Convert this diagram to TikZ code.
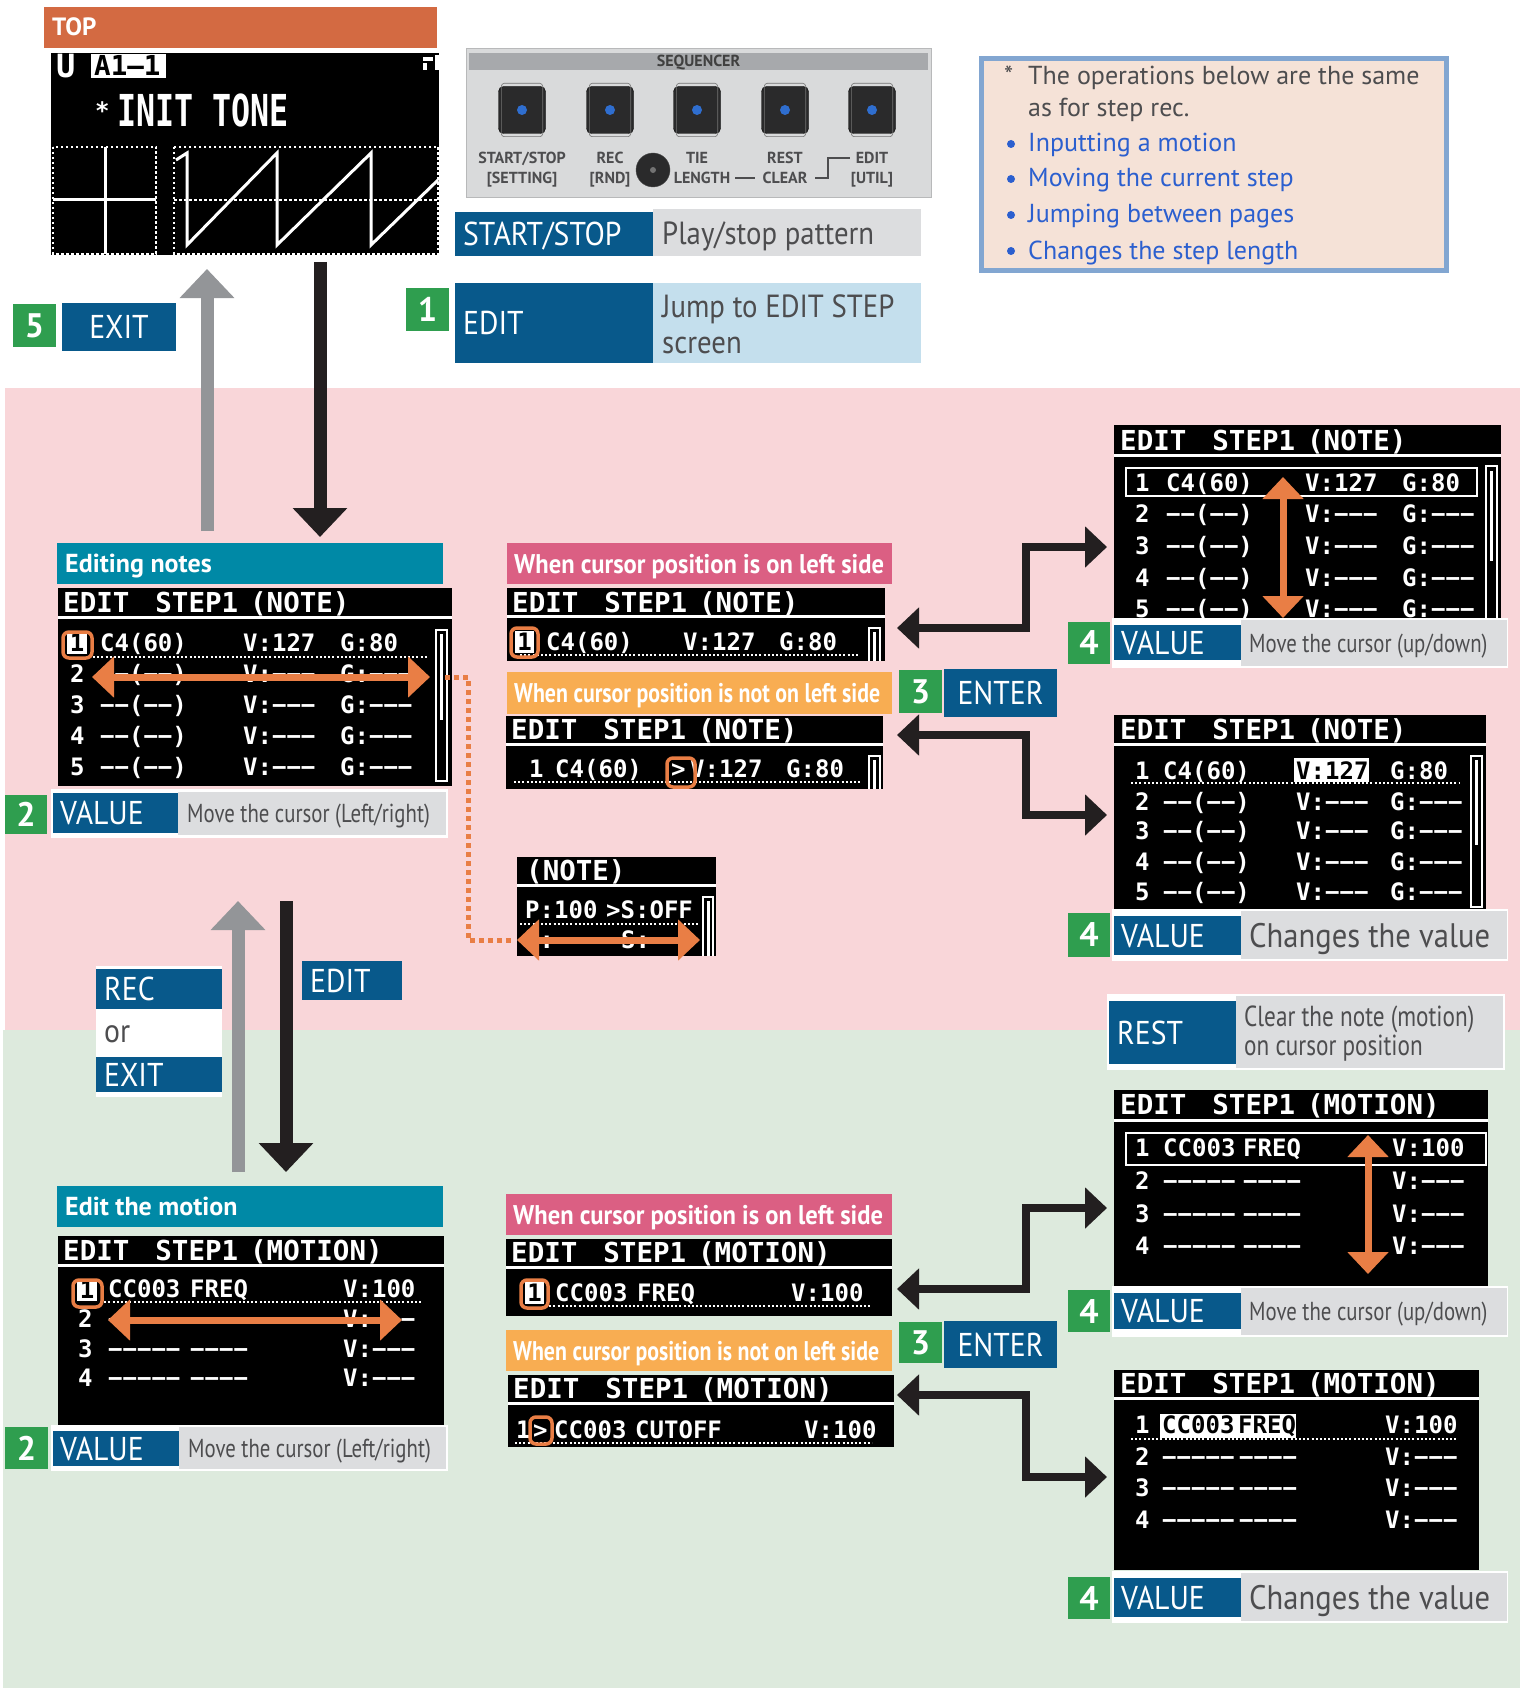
\documentclass[tikz,border=0pt]{standalone}
\usepackage{fontspec}
\setmainfont{PT Sans}
\newfontfamily\keyfam[FakeStretch=0.9]{PT Sans}
\newfontfamily\cndfam[FakeStretch=0.8]{PT Sans}
\newfontfamily\lblfam[FakeStretch=0.91]{PT Sans}
\newfontfamily\lblnfam[FakeStretch=0.81]{PT Sans}
\newfontfamily\lcdfam[Ligatures=TeXOff]{DejaVu Sans Mono}
\newfontfamily\lcdtallfam[FakeStretch=0.72,Ligatures=TeXOff]{DejaVu Sans Mono}
\usetikzlibrary{arrows.meta}

\definecolor{cTop}{HTML}{D36A42}
\definecolor{cTeal}{HTML}{0089A6}
\definecolor{cKey}{HTML}{08598B}
\definecolor{cGrn}{HTML}{2F9E4F}
\definecolor{cDesc}{HTML}{DCDDDF}
\definecolor{cLBlue}{HTML}{C4DFED}
\definecolor{cPinkBg}{HTML}{F9D6D9}
\definecolor{cGrnBg}{HTML}{DDEADD}
\definecolor{cPinkL}{HTML}{DB5F83}
\definecolor{cOrL}{HTML}{F8AD52}
\definecolor{cOr}{HTML}{E97E45}
\definecolor{cArrG}{HTML}{939598}
\definecolor{cArrK}{HTML}{231F20}
\definecolor{cInfoF}{HTML}{F5E2D7}
\definecolor{cInfoB}{HTML}{82A6D1}
\definecolor{cInfoT}{HTML}{2B5FCF}
\definecolor{cTxtG}{HTML}{4D4D4F}
\definecolor{cPanel}{HTML}{D9DADB}
\definecolor{cPanelH}{HTML}{A7A9AC}
\definecolor{cBtn}{HTML}{2A2A2B}
\definecolor{cDot}{HTML}{2F6ECF}

\newcommand{\keyF}{\keyfam\fontsize{33}{36}\selectfont}
\newcommand{\dscF}{\cndfam\fontsize{26}{28}\selectfont}
\newcommand{\lblF}{\lblfam\bfseries\fontsize{27}{28}\selectfont}
\newcommand{\lblnF}{\lblnfam\bfseries\fontsize{27}{28}\selectfont}
\newcommand{\lcdR}{\lcdfam\bfseries\fontsize{24}{24}\selectfont}
\newcommand{\lcdH}{\lcdfam\bfseries\fontsize{27.5}{28}\selectfont}
\newcommand{\numF}{\bfseries\fontsize{34}{34}\selectfont}
\newcommand{\lcdttl}[1]{EDIT\hspace*{26pt}STEP1\hspace*{12pt}#1}

\newcommand{\rbx}[6]{\node[rbxs, fill=#2, minimum width={#5pt-#3pt}, minimum height={#6pt-#4pt}] (#1) at (#3,#4) {};}
\newcommand{\rbt}[7]{\node[#2, minimum width={#5pt-#3pt}, minimum height={#6pt-#4pt}] (#1) at (#3,#4) {#7};}
\newcommand{\nrowd}[7]{\node[lr] (#1a) at (#4,#2) {#3};\node[lr] (#1b) at (#5,#2) {−−(−−)};\node[lr] (#1c) at (#6,#2) {V:−−−};\node[lr] (#1d) at (#7,#2) {G:−−−};}
\newcommand{\mrowd}[7]{\node[lr] (#1a) at (#4,#2) {#3};\node[lr] (#1b) at (#5,#2) {−−−−−};\node[lr] (#1c) at (#6,#2) {−−−−};\node[lr] (#1d) at (#7,#2) {V:−−−};}

\begin{document}
\begin{tikzpicture}[x=1pt,y=-1pt,
  rbxs/.style={inner sep=0pt, outer sep=0pt, anchor=north west, draw=none},
  kt/.style={font=\keyF, text=white, inner sep=0pt, text height=23pt, text depth=0pt},
  dt/.style={font=\dscF, text=cTxtG, inner sep=0pt, text height=18pt, text depth=0pt},
  lt/.style={font=\lblF, text=white, inner sep=0pt, text height=19pt, text depth=0pt},
  ltn/.style={font=\lblnF, text=white, inner sep=0pt, text height=19pt, text depth=0pt},
  ht/.style={font=\bfseries\fontsize{26}{28}\selectfont, text=white, inner sep=0pt, text height=18pt, text depth=0pt},
  nb/.style={rbxs, fill=cGrn, text=white, font=\numF},
  kb/.style={rbxs, fill=cKey, text=white, font=\keyF},
  lr/.style={font=\lcdR, text=white, anchor=west, inner sep=0pt, text height=17.5pt, text depth=0pt},
  lh/.style={font=\lcdH, text=white, anchor=west, inner sep=0pt, text height=20pt, text depth=0pt},
  cur/.style={fill=white, text=black, font=\lcdR, inner xsep=2.5pt, inner ysep=2pt, text height=17.5pt, text depth=0pt},
  ldot/.style={draw=white, line width=2pt, dash pattern=on 2pt off 2.2pt},
  tdot/.style={draw=white, line width=2.5pt, dash pattern=on 2.5pt off 2.5pt},
  orhl/.style={draw=cOr, line width=3.5pt, rounded corners=6pt},
  orarr/.style={draw=cOr, line width=7pt, {Triangle[length=22pt,width=40pt]}-{Triangle[length=22pt,width=40pt]}},
  conn/.style={draw=cArrK, line width=8pt, line join=miter, {Triangle[length=22pt,width=40pt]}-{Triangle[length=22pt,width=40pt]}},
  garr/.style={draw=cArrG, line width=13pt, -{Triangle[length=29pt,width=53pt]}},
  karr/.style={draw=cArrK, line width=13pt, -{Triangle[length=29pt,width=53pt]}},
  it/.style={font=\fontsize{26}{28}\selectfont, inner sep=0pt, anchor=base west},
  sq/.style={font=\bfseries\fontsize{16}{18}\selectfont, text=cTxtG, inner sep=0pt, anchor=base},
  sbar/.style={draw=white, line width=2.5pt},
]
\useasboundingbox (0,0) rectangle (1520,1688);
\fill[white] (0,0) rectangle (1520,1688);

% backgrounds
\fill[cPinkBg] (5,388) rectangle (1520,1030);
\fill[cGrnBg] (3,1030) rectangle (1520,1688);

% ---------- TOP ----------
\rbx{topbar}{cTop}{44}{7}{437}{48}
\node[ht, anchor=west, font=\bfseries\fontsize{25}{26}\selectfont, text height=17pt] (toptx) at ([xshift=8pt]topbar.west) {TOP};

\rbx{tscr}{black}{51}{53}{439}{255}
\node[font=\lcdfam\bfseries\fontsize{32}{32}\selectfont, text=white, anchor=west, inner sep=0pt, text height=23pt, text depth=0pt] (tU) at (56,66) {U};
\rbx{tA}{white}{91}{54}{166}{78}
\node[lh, text=black] (tAt) at (94,66) {A1–1};
\fill[white] (423,57) rectangle (433,61);
\fill[white] (423,63) rectangle (427,70);
\fill[white] (435,55) rectangle (439,70);
\node[lr] (tstar) at (95,111) {*};
\node[font=\lcdtallfam\bfseries\fontsize{44}{44}\selectfont, text=white, anchor=west, inner sep=0pt, text height=32pt, text depth=0pt] (tinit) at (117,111) {INIT TONE};
\draw[tdot] (53,147) rectangle (156,254);
\draw[tdot] (174,147) rectangle (438,254);
\draw[tdot] (174,200) -- (438,200);
\draw[white, line width=3pt] (105,147) -- (105,254);
\draw[white, line width=3pt] (53,200) -- (156,200);
\draw[white, line width=3pt, line join=miter] (176,160) -- (187,153) -- (187,245) -- (277,153) -- (277,245) -- (371,153) -- (371,245) -- (438,180);

% top arrows
\coordinate (ga1) at (207,531); \coordinate (ga2) at (207,269);
\draw[garr] (ga1) -- (ga2);
\coordinate (ka1) at (320,262); \coordinate (ka2) at (320,537);
\draw[karr] (ka1) -- (ka2);

% 5 EXIT, 1
\rbt{n5}{nb}{13}{304}{56}{347}{5}
\rbt{kExit}{kb}{62}{303}{176}{351}{EXIT}
\rbt{n1}{nb}{406}{288}{449}{331}{1}

% ---------- SEQUENCER panel ----------
\node[rbxs, fill=cPanel, draw=cPanel!85!black, line width=0.8pt, minimum width=465pt, minimum height=149pt] (seq) at (466,48) {};
\rbx{seqh}{cPanelH}{469}{53}{928}{70}
\node[sq, anchor=center, text=black!75, text height=11pt, text depth=0pt] (seqt) at (seqh.center) {SEQUENCER};
\foreach \i/\bx in {1/522,2/610,3/697,4/785,5/872}{
  \node[draw=black, fill=cBtn, rounded corners=5pt, minimum size=47pt, inner sep=0pt] (btn\i) at (\bx,110) {};
  \draw[black!55, line width=0.6pt, rounded corners=3pt] ([shift={(3,-3)}]btn\i.north west) rectangle ([shift={(-3,3)}]btn\i.south east);
  \fill[cDot] (btn\i.center) circle (5pt);
}
\node[circle, fill=cBtn, draw=black!70, minimum size=34pt, inner sep=0pt] (knob) at (653,170) {};
\fill[black!55] (knob.center) circle (3pt);
\node[sq] (sqa) at (522,164) {START/STOP};
\node[sq] (sqb) at (522,184) {[SETTING]};
\node[sq] (sqc) at (610,164) {REC};
\node[sq] (sqd) at (610,184) {[RND]};
\node[sq] (sqe) at (697,164) {TIE};
\node[sq] (sqf) at (702,184) {LENGTH};
\node[sq] (sqg) at (785,164) {REST};
\node[sq] (sqh) at (785,184) {CLEAR};
\node[sq] (sqi) at (872,164) {EDIT};
\node[sq] (sqj) at (872,184) {[UTIL]};
\draw[cTxtG, line width=1.2pt] (sqf.east |- 0,178) ++(5,0) -- (755,178);
\draw[cTxtG, line width=1.2pt] (815,178) -- (828,178) -- (828,158) -- (850,158);

% START/STOP row
\rbx{ssb}{cKey}{455}{212}{653}{256}
\rbx{ssg}{cDesc}{653}{209}{921}{256}
\node[kt, anchor=west] (sst) at ([xshift=8pt]ssb.west) {START/STOP};
\node[font=\keyfam\fontsize{32}{34}\selectfont, text=cTxtG, inner sep=0pt, anchor=base west] (ssd) at (662,244) {Play/stop pattern};
% EDIT row
\rbx{edb}{cKey}{455}{283}{653}{363}
\rbx{edg}{cLBlue}{653}{283}{921}{363}
\node[kt, anchor=west] (edt) at ([xshift=8pt]edb.west) {EDIT};
\node[font=\keyfam\fontsize{32}{34}\selectfont, text=cTxtG, inner sep=0pt, anchor=base west] (edd1) at (662,317) {Jump to EDIT STEP};
\node[font=\keyfam\fontsize{32}{34}\selectfont, text=cTxtG, inner sep=0pt, anchor=base west] (edd2) at (662,353) {screen};

% info box
\node[rbxs, fill=cInfoF, draw=cInfoB, line width=5pt, minimum width=465pt, minimum height=212pt] (info) at (981.5,58.5) {};
\node[it, text=cTxtG] (i0) at (1004,85) {*};
\node[it, text=cTxtG] (i1) at (1028,85) {The operations below are the same};
\node[it, text=cTxtG] (i2) at (1028,117) {as for step rec.};
\node[it, text=cInfoT] (i3) at (1028,152) {Inputting a motion};
\node[it, text=cInfoT] (i4) at (1028,187) {Moving the current step};
\node[it, text=cInfoT] (i5) at (1028,223) {Jumping between pages};
\node[it, text=cInfoT] (i6) at (1028,259) {Changes the step length};
\foreach \k/\yy in {1/144,2/179,3/215,4/251}{
  \node[circle, fill=cInfoT, minimum size=8pt, inner sep=0pt] (bul\k) at (1011,\yy) {};
}

% ---------- Editing notes (left) ----------
\rbx{hN}{cTeal}{57}{543}{443}{584}
\node[ht, anchor=west] (hNt) at ([xshift=8pt]hN.west) {Editing notes};
\rbx{sN}{black}{58}{588}{452}{786}
\draw[white, line width=3pt] (58,617.5) -- (452,617.5);
\node[lh] (sNt) at (63,602) {\lcdttl{(NOTE)}};
\node[cur] (sNc) at (77,643) {1};
\node[lr] (sN1b) at (100,643) {C4(60)};
\node[lr] (sN1c) at (243,643) {V:127};
\node[lr] (sN1d) at (340,643) {G:80};
\nrowd{sN2}{674}{2}{70}{100}{243}{340}
\nrowd{sN3}{705}{3}{70}{100}{243}{340}
\nrowd{sN4}{736}{4}{70}{100}{243}{340}
\nrowd{sN5}{767}{5}{70}{100}{243}{340}
\draw[ldot] (93,657) -- (427,657);
\draw[sbar] (436,630) rectangle (447,781);
\fill[white] (440,634) rectangle (443,720);
\draw[orhl] (63,632) rectangle (92,658);
\coordinate (oa1) at (92,677); \coordinate (oa2) at (430,677);
\draw[orarr] (oa1) -- (oa2);
\coordinate (od1) at (445,677); \coordinate (od2) at (513,940);
\draw[cOr, line width=5pt, dash pattern=on 5pt off 4pt] (od1) -- (468,677) -- (468,940) -- (od2);

\rbx{wN}{white}{51}{789}{448}{838}
\rbt{n2a}{nb}{5}{795}{47}{834}{2}
\rbx{kVa}{cKey}{53}{793}{178}{833}
\node[kt, anchor=west] (kVat) at ([xshift=7pt]kVa.west) {VALUE};
\rbx{dVa}{cDesc}{178}{792}{446}{835}
\node[dt, anchor=west] (dVat) at ([xshift=9pt]dVa.west) {Move the cursor (Left/right)};

% ---------- middle note panels ----------
\rbx{pL1}{cPinkL}{507}{543}{892}{584}
\node[lt, anchor=west] (pL1t) at ([xshift=7pt]pL1.west) {When cursor position is on left side};
\rbx{sM1}{black}{507}{588}{885}{661}
\draw[white, line width=3pt] (507,616.5) -- (885,616.5);
\node[lh] (sM1t) at (512,602) {\lcdttl{(NOTE)}};
\node[cur] (sM1c) at (524.5,642) {1};
\node[lr] (sM1b) at (546,642) {C4(60)};
\node[lr] (sM1v) at (683,642) {V:127};
\node[lr] (sM1g) at (779,642) {G:80};
\draw[ldot] (520,655) -- (860,655);
\draw[sbar] (869,661) -- (869,628) -- (880,628) -- (880,661);
\fill[white] (873,632) rectangle (876,661);
\draw[orhl] (511,628) rectangle (538,657);

\rbx{oL1}{cOrL}{507}{672}{892}{714}
\node[ltn, anchor=west] (oL1t) at ([xshift=7pt]oL1.west) {When cursor position is not on left side};
\rbx{sM2}{black}{506}{716}{883}{789}
\draw[white, line width=3pt] (506,744.5) -- (883,744.5);
\node[lh] (sM2t) at (511,729) {\lcdttl{(NOTE)}};
\node[lr] (sM2a) at (529,769) {1};
\node[lr] (sM2b) at (555,769) {C4(60)};
\node[lr] (sM2p) at (671,769) {>};
\node[lr] (sM2v) at (690,769) {V:127};
\node[lr] (sM2g) at (786,769) {G:80};
\draw[ldot] (514,782) -- (860,782);
\draw[sbar] (869,789) -- (869,756) -- (880,756) -- (880,789);
\fill[white] (873,760) rectangle (876,789);
\draw[orhl] (667,758) rectangle (695,787);

\rbt{n3a}{nb}{899}{670}{942}{713}{3}
\rbt{kEn1}{kb}{944}{669}{1057}{717}{ENTER}

\coordinate (cN1a) at (897,628); \coordinate (cN1b) at (1107,547);
\draw[conn] (cN1a) -- (1026,628) -- (1026,547) -- (cN1b);
\coordinate (cN2a) at (897,735); \coordinate (cN2b) at (1107,815);
\draw[conn] (cN2a) -- (1026,735) -- (1026,815) -- (cN2b);

% small NOTE screen
\rbx{sS}{black}{517}{857}{716}{956}
\draw[white, line width=3pt] (517,885) -- (716,885);
\node[lh] (sSt) at (526,870) {(NOTE)};
\node[lr] (sS1a) at (525,910) {P:100};
\node[lr] (sS1b) at (606,910) {>S:OFF};
\node[lr] (sS2a) at (525,940) {P:−−−};
\node[lr] (sS2b) at (621,940) {S:−−−};
\draw[ldot] (520,924) -- (698,924);
\draw[sbar] (703,956) -- (703,897) -- (713,897) -- (713,956);
\fill[white] (707,901) rectangle (709.5,956);
\coordinate (oa3) at (517,940); \coordinate (oa4) at (700,940);
\draw[orarr] (oa3) -- (oa4);

% ---------- right note screens ----------
\rbx{sR1}{black}{1114}{425}{1501}{620}
\draw[white, line width=3pt] (1114,455.5) -- (1501,455.5);
\node[lh] (sR1t) at (1120,440) {\lcdttl{(NOTE)}};
\draw[sbar] (1126,468) rectangle (1477,496);
\node[lr] (sR1a) at (1135,483) {1};
\node[lr] (sR1b) at (1166,483) {C4(60)};
\node[lr] (sR1c) at (1305,483) {V:127};
\node[lr] (sR1d) at (1402,483) {G:80};
\nrowd{sR12}{514}{2}{1135}{1166}{1305}{1402}
\nrowd{sR13}{546}{3}{1135}{1166}{1305}{1402}
\nrowd{sR14}{578}{4}{1135}{1166}{1305}{1402}
\nrowd{sR15}{609}{5}{1135}{1166}{1305}{1402}
\draw[sbar] (1486,620) -- (1486,466) -- (1497,466) -- (1497,620);
\fill[white] (1490,471) rectangle (1493,561);
\coordinate (oa5) at (1283,477); \coordinate (oa6) at (1283,618);
\draw[orarr] (oa5) -- (oa6);

\rbx{wR1}{white}{1112}{618}{1508}{668}
\rbt{n4a}{nb}{1068}{622}{1110}{664}{4}
\rbx{kVb}{cKey}{1114}{625}{1241}{660}
\node[kt, anchor=west] (kVbt) at ([xshift=7pt]kVb.west) {VALUE};
\rbx{dVb}{cDesc}{1241}{620}{1507}{666}
\node[dt, anchor=west] (dVbt) at ([xshift=8pt]dVb.west) {Move the cursor (up/down)};

\rbx{sR2}{black}{1114}{715}{1486}{910}
\draw[white, line width=3pt] (1114,744.5) -- (1486,744.5);
\node[lh] (sR2t) at (1120,729) {\lcdttl{(NOTE)}};
\node[lr] (sR2a) at (1135,771) {1};
\node[lr] (sR2b) at (1163,771) {C4(60)};
\rbx{hR2}{white}{1294}{758}{1369}{782}
\node[lr, text=black] (sR2v) at (1296,771) {V:127};
\node[lr] (sR2g) at (1390,771) {G:80};
\draw[ldot] (1131,783) -- (1460,783);
\nrowd{sR22}{802}{2}{1135}{1163}{1296}{1390}
\nrowd{sR23}{831}{3}{1135}{1163}{1296}{1390}
\nrowd{sR24}{862}{4}{1135}{1163}{1296}{1390}
\nrowd{sR25}{892}{5}{1135}{1163}{1296}{1390}
\draw[sbar] (1471,756) rectangle (1482,907);
\fill[white] (1475,760) rectangle (1478,845);

\rbx{wR2}{white}{1112}{909}{1508}{961}
\rbt{n4b}{nb}{1068}{913}{1110}{957}{4}
\rbx{kVc}{cKey}{1114}{916}{1241}{955}
\node[kt, anchor=west] (kVct) at ([xshift=7pt]kVc.west) {VALUE};
\rbx{dVc}{cDesc}{1241}{911}{1507}{959}
\node[kt, anchor=west, text=cTxtG, font=\keyfam\fontsize{34}{36}\selectfont, text height=24pt] (dVct) at ([xshift=8pt]dVc.west) {Changes the value};

% REST
\rbx{wRs}{white}{1107}{994}{1505}{1070}
\rbx{kR}{cKey}{1109}{1001}{1236}{1064}
\node[kt, anchor=west] (kRt) at ([xshift=8pt]kR.west) {REST};
\rbx{dR}{cDesc}{1236}{996}{1503}{1068}
\node[font=\cndfam\fontsize{29}{30}\selectfont, text=cTxtG, inner sep=0pt, anchor=base west] (dR1) at (1244,1026) {Clear the note (motion)};
\node[font=\cndfam\fontsize{29}{30}\selectfont, text=cTxtG, inner sep=0pt, anchor=base west] (dR2) at (1244,1055) {on cursor position};

% ---------- lower arrows and labels ----------
\coordinate (ga3) at (238,1172); \coordinate (ga4) at (238,901);
\draw[garr] (ga3) -- (ga4);
\coordinate (ka3) at (286,901); \coordinate (ka4) at (286,1172);
\draw[karr] (ka3) -- (ka4);

\rbx{roe}{white}{96}{966}{222}{1097}
\rbx{kRec}{cKey}{96}{969}{222}{1009}
\node[kt, anchor=west] (kRect) at ([xshift=8pt]kRec.west) {REC};
\node[kt, anchor=west, text=cTxtG, text height=16pt] (orT) at (104,1034) {or};
\rbx{kEx2}{cKey}{96}{1057}{222}{1092}
\node[kt, anchor=west] (kEx2t) at ([xshift=8pt]kEx2.west) {EXIT};
\rbx{kEd2}{cKey}{302}{961}{402}{1000}
\node[kt, anchor=west] (kEd2t) at ([xshift=8pt]kEd2.west) {EDIT};

% ---------- Edit the motion (left) ----------
\rbx{hM}{cTeal}{57}{1186}{443}{1227}
\node[ht, anchor=west] (hMt) at ([xshift=8pt]hM.west) {Edit the motion};
\rbx{sL}{black}{58}{1236}{444}{1425}
\draw[white, line width=3pt] (58,1265) -- (444,1265);
\node[lh] (sLt) at (63,1250) {\lcdttl{(MOTION)}};
\node[cur] (sLc) at (87,1290) {1};
\node[lr] (sL1b) at (108,1289) {CC003};
\node[lr] (sL1c) at (190,1289) {FREQ};
\node[lr] (sL1d) at (343,1289) {V:100};
\mrowd{sL2}{1319}{2}{78}{108}{190}{343}
\mrowd{sL3}{1349}{3}{78}{108}{190}{343}
\mrowd{sL4}{1378}{4}{78}{108}{190}{343}
\draw[ldot] (100,1302) -- (423,1302);
\draw[orhl] (73,1280) rectangle (102,1307);
\coordinate (oa7) at (108,1320); \coordinate (oa8) at (402,1320);
\draw[orarr] (oa7) -- (oa8);

\rbx{wM}{white}{51}{1425}{448}{1471}
\rbt{n2b}{nb}{5}{1427}{48}{1469}{2}
\rbx{kVd}{cKey}{53}{1431}{179}{1466}
\node[kt, anchor=west] (kVdt) at ([xshift=7pt]kVd.west) {VALUE};
\rbx{dVd}{cDesc}{179}{1427}{446}{1469}
\node[dt, anchor=west] (dVdt) at ([xshift=9pt]dVd.west) {Move the cursor (Left/right)};

% ---------- middle motion panels ----------
\rbx{pL2}{cPinkL}{506}{1194}{892}{1235}
\node[lt, anchor=west] (pL2t) at ([xshift=7pt]pL2.west) {When cursor position is on left side};
\rbx{sM3}{black}{506}{1239}{892}{1316}
\draw[white, line width=3pt] (506,1267.5) -- (892,1267.5);
\node[lh] (sM3t) at (511,1252) {\lcdttl{(MOTION)}};
\node[cur] (sM3c) at (534.5,1293) {1};
\node[lr] (sM3b) at (555,1293) {CC003};
\node[lr] (sM3f) at (637,1293) {FREQ};
\node[lr] (sM3v) at (791,1293) {V:100};
\draw[ldot] (545,1306) -- (872,1306);
\draw[orhl] (521,1280) rectangle (548,1308);

\rbx{oL2}{cOrL}{506}{1330}{892}{1371}
\node[ltn, anchor=west] (oL2t) at ([xshift=7pt]oL2.west) {When cursor position is not on left side};
\rbx{sM4}{black}{508}{1375}{894}{1447}
\draw[white, line width=3pt] (508,1403.5) -- (894,1403.5);
\node[lh] (sM4t) at (513,1388) {\lcdttl{(MOTION)}};
\node[lr] (sM4a) at (516,1430) {1};
\node[lr] (sM4p) at (533,1430) {>};
\node[lr] (sM4b) at (554,1430) {CC003};
\node[lr] (sM4f) at (635,1430) {CUTOFF};
\node[lr] (sM4v) at (804,1430) {V:100};
\draw[ldot] (515,1443) -- (872,1443);
\draw[orhl] (530,1417) rectangle (552,1444);

\rbt{n3b}{nb}{899}{1322}{942}{1363}{3}
\rbt{kEn2}{kb}{944}{1321}{1057}{1368}{ENTER}

\coordinate (cM1a) at (897,1289); \coordinate (cM1b) at (1107,1208);
\draw[conn] (cM1a) -- (1026,1289) -- (1026,1208) -- (cM1b);
\coordinate (cM2a) at (897,1395); \coordinate (cM2b) at (1107,1477);
\draw[conn] (cM2a) -- (1026,1395) -- (1026,1477) -- (cM2b);

% ---------- right motion screens ----------
\rbx{sR3}{black}{1114}{1090}{1488}{1288}
\draw[white, line width=3pt] (1114,1120.5) -- (1488,1120.5);
\node[lh] (sR3t) at (1120,1104) {\lcdttl{(MOTION)}};
\draw[sbar] (1126,1133) rectangle (1486,1165);
\node[lr] (sR3a) at (1135,1148) {1};
\node[lr] (sR3b) at (1163,1148) {CC003};
\node[lr] (sR3c) at (1243,1148) {FREQ};
\node[lr] (sR3d) at (1392,1148) {V:100};
\mrowd{sR32}{1181}{2}{1135}{1163}{1243}{1392}
\mrowd{sR33}{1214}{3}{1135}{1163}{1243}{1392}
\mrowd{sR34}{1246}{4}{1135}{1163}{1243}{1392}
\coordinate (oa9) at (1368,1135); \coordinate (oa10) at (1368,1274);
\draw[orarr] (oa9) -- (oa10);

\rbx{wR3}{white}{1112}{1286}{1508}{1337}
\rbt{n4c}{nb}{1068}{1290}{1110}{1332}{4}
\rbx{kVe}{cKey}{1114}{1293}{1241}{1329}
\node[kt, anchor=west] (kVet) at ([xshift=7pt]kVe.west) {VALUE};
\rbx{dVe}{cDesc}{1241}{1288}{1507}{1335}
\node[dt, anchor=west] (dVet) at ([xshift=8pt]dVe.west) {Move the cursor (up/down)};

\rbx{sR4}{black}{1114}{1370}{1479}{1570}
\draw[white, line width=3pt] (1114,1398) -- (1479,1398);
\node[lh] (sR4t) at (1120,1383) {\lcdttl{(MOTION)}};
\node[lr] (sR4a) at (1135,1425) {1};
\rbx{hR4}{white}{1160}{1414}{1296}{1438}
\node[lr, text=black] (sR4b) at (1162,1425) {CC003};
\node[lr, text=black] (sR4c) at (1238,1425) {FREQ};
\node[lr] (sR4v) at (1385,1425) {V:100};
\draw[ldot] (1131,1439) -- (1458,1439);
\mrowd{sR42}{1457}{2}{1135}{1162}{1239}{1385}
\mrowd{sR43}{1488}{3}{1135}{1162}{1239}{1385}
\mrowd{sR44}{1520}{4}{1135}{1162}{1239}{1385}

\rbx{wR4}{white}{1112}{1571}{1508}{1623}
\rbt{n4d}{nb}{1068}{1577}{1110}{1619}{4}
\rbx{kVf}{cKey}{1114}{1578}{1241}{1617}
\node[kt, anchor=west] (kVft) at ([xshift=7pt]kVf.west) {VALUE};
\rbx{dVf}{cDesc}{1241}{1573}{1507}{1621}
\node[kt, anchor=west, text=cTxtG, font=\keyfam\fontsize{34}{36}\selectfont, text height=24pt] (dVft) at ([xshift=8pt]dVf.west) {Changes the value};
\end{tikzpicture}
\end{document}
